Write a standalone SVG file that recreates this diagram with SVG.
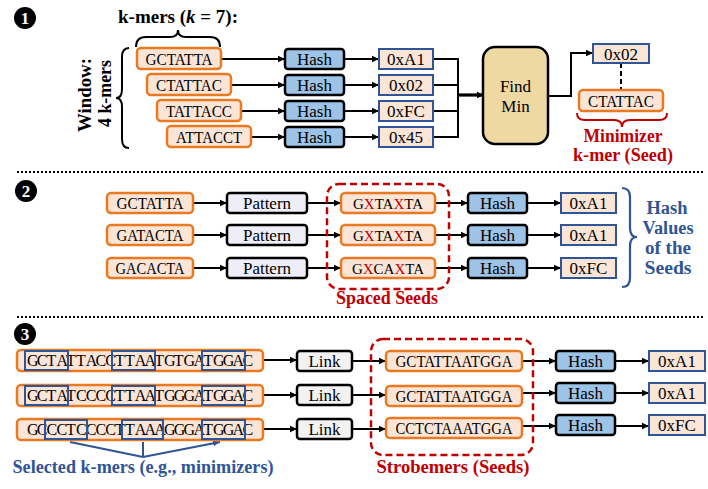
<svg xmlns="http://www.w3.org/2000/svg" width="708" height="489" viewBox="0 0 708 489">
<style>
text{font-family:"Liberation Serif","DejaVu Serif",serif;}
.t{font-size:17px;text-anchor:middle;fill:#000;}
.b{font-weight:bold;font-size:18px;}
.sq{font-size:16px;fill:#000;}
.gx{font-size:15px;text-anchor:middle;fill:#000;}
.seq{fill:#FBE5D6;stroke:#E97A22;stroke-width:2.5;}
.hash{fill:#9DC3E6;stroke:#000;stroke-width:2.5;}
.hex{fill:#FBE5D6;stroke:#2F5597;stroke-width:2;}
.pat{fill:#EEEEF8;stroke:#000;stroke-width:2.5;}
.link{fill:#F2F2F2;stroke:#000;stroke-width:2.5;}
.kbox{fill:none;stroke:#2F5597;stroke-width:2;}
.ln{fill:none;stroke:#000;stroke-width:2;}
.ar{fill:none;stroke:#000;stroke-width:2;marker-end:url(#ah);}
.red{fill:#C00000;}
.blue{fill:#2F5597;}
.dot{stroke:#000;stroke-width:2;stroke-dasharray:2 2;}
.rdash{fill:none;stroke:#C00000;stroke-width:2.5;stroke-dasharray:7 4;}
.num{font-family:"Liberation Serif","DejaVu Serif",serif;font-size:17px;font-weight:bold;fill:#fff;text-anchor:middle;}
</style>
<defs>
<marker id="ah" markerWidth="8" markerHeight="8" refX="7" refY="4" orient="auto" markerUnits="userSpaceOnUse">
<path d="M0,0.8 L7,4 L0,7.2 Z" fill="#000"/>
</marker>
<marker id="ahb" markerWidth="8" markerHeight="8" refX="7" refY="4" orient="auto" markerUnits="userSpaceOnUse">
<path d="M0,1 L7,4 L0,7 Z" fill="#2F5597"/>
</marker>
</defs>

<!-- separators -->
<line class="dot" x1="17" y1="172" x2="703" y2="172"/>
<line class="dot" x1="17" y1="317" x2="703" y2="317"/>

<!-- section numbers -->
<g id="n1"><circle cx="25" cy="18" r="11" fill="#000"/><text class="num" x="25" y="24">1</text></g>
<g id="n2"><circle cx="26" cy="191" r="11" fill="#000"/><text class="num" x="26" y="197">2</text></g>
<g id="n3"><circle cx="25" cy="334" r="11" fill="#000"/><text class="num" x="25" y="340">3</text></g>

<!-- ===== Section 1 ===== -->
<text class="t b" x="178" y="23" font-size="19" textLength="120" lengthAdjust="spacingAndGlyphs">k-mers (<tspan font-style="italic">k</tspan> = 7):</text>
<path class="ln" d="M136,47 Q136,37 146,37 L170,37 Q178,37 178,30 Q178,37 186,37 L210,37 Q220,37 220,47"/>
<path class="ln" d="M129,48 Q122,48 122,57 L122,89 Q122,98 116,98 Q122,98 122,107 L122,139 Q122,148 129,148"/>
<text class="t b" transform="translate(91,95) rotate(-90)" textLength="74" lengthAdjust="spacingAndGlyphs">Window:</text>
<text class="t b" transform="translate(111,93.5) rotate(-90)" textLength="67" lengthAdjust="spacingAndGlyphs">4 k-mers</text>

<g id="connectors1">
<line class="ar" x1="221" y1="59" x2="285" y2="59"/>
<line class="ar" x1="231" y1="85" x2="285" y2="85"/>
<line class="ar" x1="241" y1="111" x2="285" y2="111"/>
<line class="ar" x1="251" y1="137" x2="285" y2="137"/>
<line class="ar" x1="344" y1="59" x2="379" y2="59"/>
<line class="ar" x1="344" y1="85" x2="379" y2="85"/>
<line class="ar" x1="344" y1="111" x2="379" y2="111"/>
<line class="ar" x1="344" y1="137" x2="379" y2="137"/>
<path class="ln" d="M433,59 H458 M433,85 H458 M433,111 H458 M433,137 H458 M458,58 V138"/>
<line x1="458" y1="95" x2="484" y2="95" stroke="#000" stroke-width="3.2" marker-end="url(#ah)"/>
<path class="ar" d="M548,96 H571 V53 H593"/>
<line x1="621" y1="63" x2="621" y2="90" stroke="#000" stroke-width="2" stroke-dasharray="5 3"/>
</g>

<g id="k1"><rect class="seq" x="137" y="48" width="84" height="21" rx="4"/><text class="t" x="179" y="64.5" textLength="67" lengthAdjust="spacingAndGlyphs">GCTATTA</text></g>
<g id="k2"><rect class="seq" x="147" y="74" width="84" height="21" rx="4"/><text class="t" x="189" y="90.5" textLength="66" lengthAdjust="spacingAndGlyphs">CTATTAC</text></g>
<g id="k3"><rect class="seq" x="157" y="100" width="84" height="21" rx="4"/><text class="t" x="199" y="116.5" textLength="66" lengthAdjust="spacingAndGlyphs">TATTACC</text></g>
<g id="k4"><rect class="seq" x="167" y="126" width="84" height="21" rx="4"/><text class="t" x="209" y="142.5" textLength="66" lengthAdjust="spacingAndGlyphs">ATTACCT</text></g>

<g id="h1"><rect class="hash" x="285" y="49" width="59" height="20" rx="3"/><text class="t" x="314.5" y="65">Hash</text></g>
<g id="h2"><rect class="hash" x="285" y="75" width="59" height="20" rx="3"/><text class="t" x="314.5" y="91">Hash</text></g>
<g id="h3"><rect class="hash" x="285" y="101" width="59" height="20" rx="3"/><text class="t" x="314.5" y="117">Hash</text></g>
<g id="h4"><rect class="hash" x="285" y="127" width="59" height="20" rx="3"/><text class="t" x="314.5" y="143">Hash</text></g>

<g id="v1"><rect class="hex" x="379" y="49" width="54" height="20"/><text class="t" x="406" y="65">0xA1</text></g>
<g id="v2"><rect class="hex" x="379" y="75" width="54" height="20"/><text class="t" x="406" y="91">0x02</text></g>
<g id="v3"><rect class="hex" x="379" y="101" width="54" height="20"/><text class="t" x="406" y="117">0xFC</text></g>
<g id="v4"><rect class="hex" x="379" y="127" width="54" height="20"/><text class="t" x="406" y="143">0x45</text></g>

<g id="findmin"><rect x="483" y="47" width="65" height="97" rx="12" fill="#EFD9A3" stroke="#000" stroke-width="2.5"/><text class="t" x="515.5" y="92">Find</text><text class="t" x="515.5" y="112">Min</text></g>

<g id="minhex"><rect class="hex" x="593" y="44" width="56" height="19"/><text class="t" x="621" y="59.5">0x02</text></g>
<g id="minkmer"><rect class="seq" x="579" y="90" width="84" height="21" rx="4"/><text class="t" x="621" y="106.5" textLength="66" lengthAdjust="spacingAndGlyphs">CTATTAC</text></g>
<path d="M577,113 Q577,120 585,120 L614,120 Q622,120 622,127 Q622,120 630,120 L659,120 Q667,120 667,113" fill="none" stroke="#C00000" stroke-width="2"/>
<text class="t b red" x="623" y="142" font-size="17" textLength="79" lengthAdjust="spacingAndGlyphs">Minimizer</text>
<text class="t b red" x="623" y="161" font-size="17" textLength="100" lengthAdjust="spacingAndGlyphs">k-mer (Seed)</text>

<!-- ===== Section 2 ===== -->
<g id="connectors2">
<line class="ar" x1="193" y1="203" x2="227" y2="203"/>
<line class="ar" x1="193" y1="235" x2="227" y2="235"/>
<line class="ar" x1="193" y1="268" x2="227" y2="268"/>
<line class="ar" x1="307" y1="203" x2="341" y2="203"/>
<line class="ar" x1="307" y1="235" x2="341" y2="235"/>
<line class="ar" x1="307" y1="268" x2="341" y2="268"/>
<line class="ar" x1="435" y1="203" x2="468" y2="203"/>
<line class="ar" x1="435" y1="235" x2="468" y2="235"/>
<line class="ar" x1="435" y1="268" x2="468" y2="268"/>
<line class="ar" x1="527" y1="203" x2="561" y2="203"/>
<line class="ar" x1="527" y1="235" x2="561" y2="235"/>
<line class="ar" x1="527" y1="268" x2="561" y2="268"/>
</g>

<g id="s1"><rect class="seq" x="107" y="193" width="86" height="20" rx="4"/><text class="t" x="150" y="209" textLength="67" lengthAdjust="spacingAndGlyphs">GCTATTA</text></g>
<g id="s2"><rect class="seq" x="107" y="225" width="86" height="20" rx="4"/><text class="t" x="150" y="241" textLength="67" lengthAdjust="spacingAndGlyphs">GATACTA</text></g>
<g id="s3"><rect class="seq" x="107" y="258" width="86" height="20" rx="4"/><text class="t" x="150" y="274" textLength="69" lengthAdjust="spacingAndGlyphs">GACACTA</text></g>

<g id="p1"><rect class="pat" x="227" y="193" width="80" height="20" rx="3"/><text class="t" x="267" y="209">Pattern</text></g>
<g id="p2"><rect class="pat" x="227" y="225" width="80" height="20" rx="3"/><text class="t" x="267" y="241">Pattern</text></g>
<g id="p3"><rect class="pat" x="227" y="258" width="80" height="20" rx="3"/><text class="t" x="267" y="274">Pattern</text></g>

<rect class="rdash" x="327" y="184" width="122" height="105" rx="12"/>
<g id="g1"><rect class="seq" x="341" y="193" width="94" height="20" rx="4"/><text class="gx" x="388" y="208.5">G<tspan fill="#C00000">X</tspan>TA<tspan fill="#C00000">X</tspan>TA</text></g>
<g id="g2"><rect class="seq" x="341" y="225" width="94" height="20" rx="4"/><text class="gx" x="388" y="240.5">G<tspan fill="#C00000">X</tspan>TA<tspan fill="#C00000">X</tspan>TA</text></g>
<g id="g3"><rect class="seq" x="341" y="258" width="94" height="20" rx="4"/><text class="gx" x="388" y="273.5">G<tspan fill="#C00000">X</tspan>CA<tspan fill="#C00000">X</tspan>TA</text></g>
<text class="t b red" x="387" y="304" textLength="102" lengthAdjust="spacingAndGlyphs">Spaced Seeds</text>

<g id="sh1"><rect class="hash" x="468" y="193" width="59" height="20" rx="3"/><text class="t" x="497.5" y="209">Hash</text></g>
<g id="sh2"><rect class="hash" x="468" y="225" width="59" height="20" rx="3"/><text class="t" x="497.5" y="241">Hash</text></g>
<g id="sh3"><rect class="hash" x="468" y="258" width="59" height="20" rx="3"/><text class="t" x="497.5" y="274">Hash</text></g>

<g id="sv1"><rect class="hex" x="561" y="193" width="55" height="20"/><text class="t" x="588.5" y="209">0xA1</text></g>
<g id="sv2"><rect class="hex" x="561" y="225" width="55" height="20"/><text class="t" x="588.5" y="241">0xA1</text></g>
<g id="sv3"><rect class="hex" x="561" y="258" width="55" height="20"/><text class="t" x="588.5" y="274">0xFC</text></g>

<path d="M622,188 Q630,188 630,197 L630,228 Q630,237 637,237 Q630,237 630,246 L630,278 Q630,287 622,287" fill="none" stroke="#2F5597" stroke-width="2.2"/>
<text class="t b blue" x="667" y="214" font-size="19" textLength="41" lengthAdjust="spacingAndGlyphs">Hash</text>
<text class="t b blue" x="668" y="234" font-size="19" textLength="51" lengthAdjust="spacingAndGlyphs">Values</text>
<text class="t b blue" x="668" y="254" font-size="19" textLength="46" lengthAdjust="spacingAndGlyphs">of the</text>
<text class="t b blue" x="668" y="274" font-size="19" textLength="47" lengthAdjust="spacingAndGlyphs">Seeds</text>

<!-- ===== Section 3 ===== -->
<g id="connectors3">
<line class="ar" x1="263" y1="360" x2="297" y2="360"/>
<line class="ar" x1="263" y1="395" x2="297" y2="395"/>
<line class="ar" x1="263" y1="429" x2="297" y2="429"/>
<line class="ar" x1="352" y1="361" x2="386" y2="361"/>
<line class="ar" x1="352" y1="395" x2="386" y2="395"/>
<line class="ar" x1="352" y1="429" x2="386" y2="429"/>
<line class="ar" x1="522" y1="361" x2="556" y2="361"/>
<line class="ar" x1="522" y1="393" x2="556" y2="393"/>
<line class="ar" x1="522" y1="426" x2="556" y2="426"/>
<line class="ar" x1="615" y1="361" x2="649" y2="361"/>
<line class="ar" x1="615" y1="393" x2="649" y2="393"/>
<line class="ar" x1="615" y1="426" x2="649" y2="426"/>
<path d="M143,457 L70,442 M143,457 L143,442 M143,457 L220,442" fill="none" stroke="#2F5597" stroke-width="2" marker-end="url(#ahb)"/>
</g>

<g id="r1">
<rect class="seq" x="17" y="350" width="246" height="21" rx="4"/>
<text class="sq" y="366" x="27 36.8 46.6 56.4 66.1 75.9 85.7 95.5 105.3 115.1 124.9 134.7 144.5 154.2 164 173.8 183.6 193.4 203.2 213 222.8 232.6 242.4">GCTATTACCTTAATGTGATGGAC</text>
<rect class="kbox" x="25" y="351" width="43" height="19"/>
<rect class="kbox" x="112" y="351" width="43" height="19"/>
<rect class="kbox" x="202" y="351" width="43" height="19"/>
</g>

<g id="r2">
<rect class="seq" x="17" y="385" width="246" height="21" rx="4"/>
<text class="sq" y="401" x="27 36.8 46.6 56.4 66.1 75.9 85.7 95.5 105.3 115.1 124.9 134.7 144.5 154.2 164 173.8 183.6 193.4 203.2 213 222.8 232.6 242.4">GCTATCCCCTTAATGGGATGGAC</text>
<rect class="kbox" x="25" y="386" width="43" height="19"/>
<rect class="kbox" x="112" y="386" width="43" height="19"/>
<rect class="kbox" x="202" y="386" width="43" height="19"/>
</g>

<g id="r3">
<rect class="seq" x="17" y="419" width="246" height="21" rx="4"/>
<text class="sq" y="435" x="27 36.8 46.6 56.4 66.1 75.9 85.7 95.5 105.3 115.1 124.9 134.7 144.5 154.2 164 173.8 183.6 193.4 203.2 213 222.8 232.6 242.4">GCCCTCCCCTTAAAGGGATGGAC</text>
<rect class="kbox" x="45" y="420" width="42" height="19"/>
<rect class="kbox" x="122" y="420" width="41" height="19"/>
<rect class="kbox" x="202" y="420" width="43" height="19"/>
</g>
<text class="t b blue" x="143" y="473" textLength="261" lengthAdjust="spacingAndGlyphs">Selected k-mers (e.g., minimizers)</text>

<g id="l1"><rect class="link" x="297" y="351" width="55" height="20" rx="3"/><text class="t" x="324.5" y="367">Link</text></g>
<g id="l2"><rect class="link" x="297" y="385" width="55" height="20" rx="3"/><text class="t" x="324.5" y="401">Link</text></g>
<g id="l3"><rect class="link" x="297" y="419" width="55" height="20" rx="3"/><text class="t" x="324.5" y="435">Link</text></g>

<rect class="rdash" x="371" y="339" width="162" height="116" rx="12"/>
<g id="st1"><rect class="seq" x="386" y="351" width="136" height="20" rx="4"/><text class="t" x="454" y="367" textLength="117" lengthAdjust="spacingAndGlyphs">GCTATTAATGGA</text></g>
<g id="st2"><rect class="seq" x="386" y="386" width="136" height="20" rx="4"/><text class="t" x="454" y="402" textLength="117" lengthAdjust="spacingAndGlyphs">GCTATTAATGGA</text></g>
<g id="st3"><rect class="seq" x="386" y="418" width="136" height="20" rx="4"/><text class="t" x="454" y="434" textLength="117" lengthAdjust="spacingAndGlyphs">CCTCTAAATGGA</text></g>
<text class="t b red" x="453" y="473" textLength="153" lengthAdjust="spacingAndGlyphs">Strobemers (Seeds)</text>

<g id="th1"><rect class="hash" x="556" y="351" width="59" height="20" rx="3"/><text class="t" x="585.5" y="367">Hash</text></g>
<g id="th2"><rect class="hash" x="556" y="383" width="59" height="20" rx="3"/><text class="t" x="585.5" y="399">Hash</text></g>
<g id="th3"><rect class="hash" x="556" y="415" width="59" height="20" rx="3"/><text class="t" x="585.5" y="431">Hash</text></g>

<g id="tv1"><rect class="hex" x="649" y="351" width="56" height="20"/><text class="t" x="677" y="367">0xA1</text></g>
<g id="tv2"><rect class="hex" x="649" y="383" width="56" height="20"/><text class="t" x="677" y="399">0xA1</text></g>
<g id="tv3"><rect class="hex" x="649" y="415" width="56" height="20"/><text class="t" x="677" y="431">0xFC</text></g>
</svg>
